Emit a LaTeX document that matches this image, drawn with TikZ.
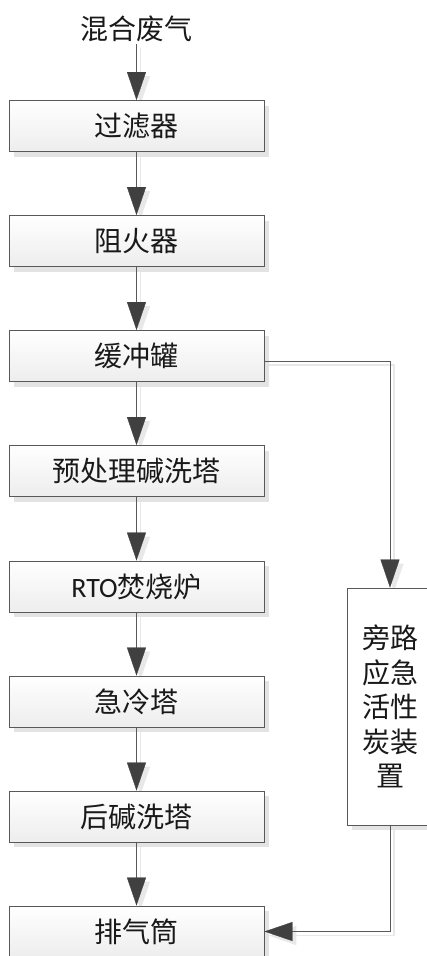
\documentclass[tikz,border=0pt]{standalone}
\usepackage{fontspec}
\newfontfamily\cjk{Noto Sans CJK SC}
\newfontfamily\rtofont{Carlito}
\usetikzlibrary{arrows.meta,shadows,backgrounds}
\tikzset{
  box/.style={draw=black!65, line width=0.9pt, top color=white, bottom color=black!7,
    minimum width=255pt, minimum height=51pt, inner sep=0pt, anchor=center,
    font=\cjk\fontsize{28}{34}\selectfont, text=black!90,
    drop shadow={shadow xshift=5pt, shadow yshift=-5pt, opacity=1, fill=black!11}},
  bybox/.style={draw=black!65, line width=0.9pt, fill=white,
    minimum width=86pt, minimum height=237pt, inner sep=0pt, align=center,
    font=\cjk\fontsize{28}{34.5}\selectfont, text=black!90,
    drop shadow={shadow xshift=5pt, shadow yshift=-5pt, opacity=1, fill=black!11}},
  flow/.style={draw=black!65, line width=0.9pt,
    -{Triangle[length=28pt,width=19pt,color=black!75,fill=black!75,line width=0.3pt]}},
  flowshadow/.style={draw=black!9, line width=1.6pt,
    -{Triangle[length=28pt,width=19pt,color=black!9,fill=black!9]},
    transform canvas={shift={(4pt,-4pt)}}},
}
\begin{document}
\begin{tikzpicture}[x=1pt,y=-1pt]
\useasboundingbox (0,0) rectangle (426,956);
\node[font=\cjk\fontsize{28}{34}\selectfont, text=black!90, inner sep=0pt, minimum height=30pt] (src) at (136.5,29) {混合废气};
\node[box] (b1) at (136.5,126) {过滤器};
\node[box] (b2) at (136.5,241) {阻火器};
\node[box] (b3) at (136.5,356) {缓冲罐};
\node[box] (b4) at (136.5,471) {预处理碱洗塔};
\node[box] (b5) at (136.5,586.5) {{\rtofont RTO}焚烧炉};
\node[box] (b6) at (136.5,701.5) {急冷塔};
\node[box] (b7) at (136.5,816.5) {后碱洗塔};
\node[box] (b8) at (136.5,931.5) {排气筒};
\node[bybox] (by) at (390,706.5) {旁路\\应急\\活性\\炭装\\置};
\coordinate (tap) at ([yshift=-5pt]b3.east);
\begin{pgfonlayer}{background}
\draw[flowshadow] (src.south) -- (b1.north);
\draw[flowshadow] (b1.south) -- (b2.north);
\draw[flowshadow] (b2.south) -- (b3.north);
\draw[flowshadow] (b3.south) -- (b4.north);
\draw[flowshadow] (b4.south) -- (b5.north);
\draw[flowshadow] (b5.south) -- (b6.north);
\draw[flowshadow] (b6.south) -- (b7.north);
\draw[flowshadow] (b7.south) -- (b8.north);
\draw[flowshadow] (tap) -| (by.north);
\draw[flowshadow] (by.south) |- (b8.east);
\end{pgfonlayer}
\draw[flow] (src.south) -- (b1.north);
\draw[flow] (b1.south) -- (b2.north);
\draw[flow] (b2.south) -- (b3.north);
\draw[flow] (b3.south) -- (b4.north);
\draw[flow] (b4.south) -- (b5.north);
\draw[flow] (b5.south) -- (b6.north);
\draw[flow] (b6.south) -- (b7.north);
\draw[flow] (b7.south) -- (b8.north);
\draw[flow] (tap) -| (by.north);
\draw[flow] (by.south) |- (b8.east);
\end{tikzpicture}
\end{document}
